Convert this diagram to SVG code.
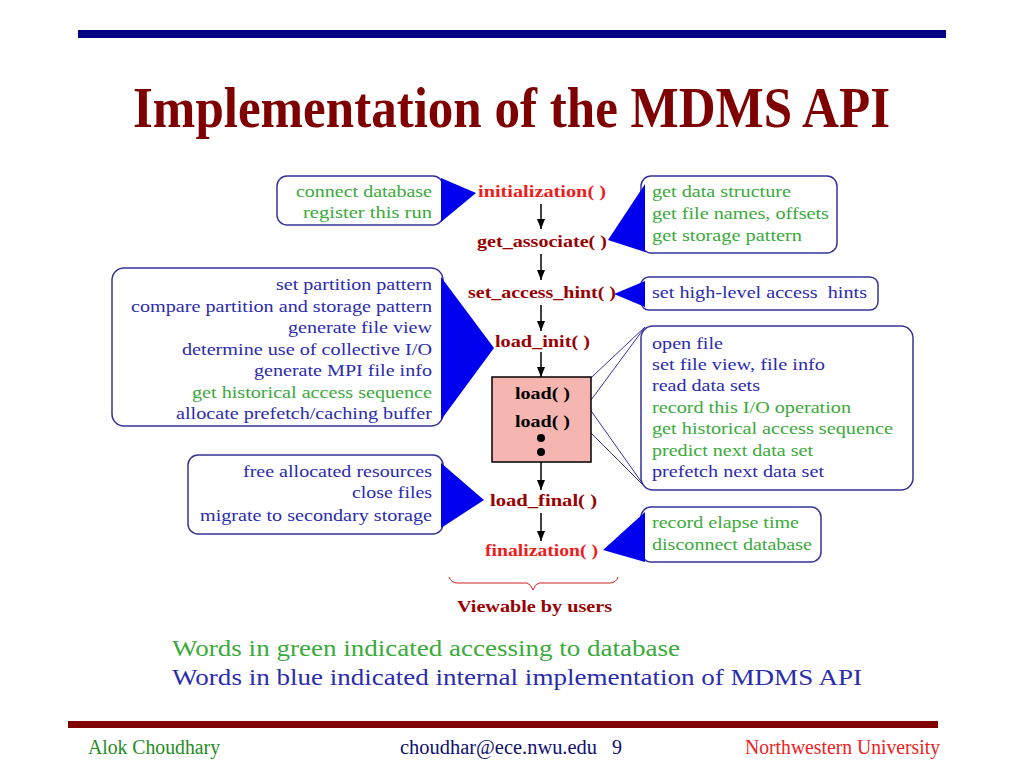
<svg xmlns="http://www.w3.org/2000/svg" width="1024" height="768" viewBox="0 0 1024 768">
<defs>
<style>
.serif{font-family:"Liberation Serif","Times New Roman",serif}
.box{fill:#fff;stroke:#333399;stroke-width:1.5}
.tri{fill:#0000ee}
.g{fill:#3aaa3a}
.b{fill:#2b2bb0}
.bt{font-family:"Liberation Serif","Times New Roman",serif;font-size:17px}
.fn{font-family:"Liberation Serif","Times New Roman",serif;font-size:16px;font-weight:bold;fill:#990000}
.fr{fill:#ee1c1c}
.k{fill:#000}
.conn line{stroke:#000;stroke-width:1.5}
.lk{stroke:#3333aa;stroke-width:1;fill:none}
</style>
<marker id="ah" markerWidth="10" markerHeight="8" refX="10" refY="4" orient="auto" markerUnits="userSpaceOnUse" viewBox="0 0 10 8">
<path d="M0,0 L10,4 L0,8 Z" fill="#000"/>
</marker>
</defs>
<rect width="1024" height="768" fill="#fff"/>
<rect x="78" y="30" width="868" height="8" fill="#000080"/>
<text x="133" y="127" class="serif" font-size="57" font-weight="bold" fill="#7f0000" textLength="757" lengthAdjust="spacingAndGlyphs">Implementation of the MDMS API</text>

<g class="conn" id="connectors">
<line x1="541" y1="204" x2="541" y2="229" marker-end="url(#ah)"/>
<line x1="541" y1="254" x2="541" y2="280" marker-end="url(#ah)"/>
<line x1="541" y1="305" x2="541" y2="331" marker-end="url(#ah)"/>
<line x1="541" y1="352" x2="541" y2="377" marker-end="url(#ah)"/>
<line x1="541" y1="462" x2="541" y2="490" marker-end="url(#ah)"/>
<line x1="541" y1="513" x2="541" y2="541" marker-end="url(#ah)"/>
<path class="lk" d="M577,391 L645,327 M577,391 L645,487 M577,419 L645,327 M577,419 L645,487"/>
</g>

<g id="flow">
<text x="478" y="197" class="fn fr" textLength="128" lengthAdjust="spacingAndGlyphs">initialization( )</text>
<text x="477" y="247" class="fn" textLength="130" lengthAdjust="spacingAndGlyphs">get_associate( )</text>
<text x="468" y="298" class="fn" textLength="148" lengthAdjust="spacingAndGlyphs">set_access_hint( )</text>
<text x="495" y="347" class="fn" textLength="95" lengthAdjust="spacingAndGlyphs">load_init( )</text>
<g id="loadbox">
<rect x="492" y="377" width="99" height="85" fill="#f5b5b0" stroke="#000" stroke-width="1.5"/>
<text x="515" y="399" class="fn k" textLength="55" lengthAdjust="spacingAndGlyphs">load( )</text>
<text x="515" y="427" class="fn k" textLength="55" lengthAdjust="spacingAndGlyphs">load( )</text>
<circle cx="541" cy="438" r="4" fill="#000"/>
<circle cx="541" cy="452" r="4" fill="#000"/>
</g>
<text x="490" y="506" class="fn" textLength="107" lengthAdjust="spacingAndGlyphs">load_final( )</text>
<text x="485" y="556" class="fn fr" textLength="113" lengthAdjust="spacingAndGlyphs">finalization( )</text>
</g>

<g id="brace">
<path d="M449,577 Q451,583 458,583 L527,583 Q531,584 533,590 Q535,584 539,583 L610,583 Q616,583 618,577" fill="none" stroke="#cc2222" stroke-width="1"/>
<text x="457" y="612" class="fn" textLength="155" lengthAdjust="spacingAndGlyphs">Viewable by users</text>
</g>

<g id="n-init">
<rect class="box" x="277" y="176" width="166" height="49" rx="10"/>
<polygon class="tri" points="441,178 476,193 441,222"/>
<text class="bt g" x="296" y="197" textLength="136" lengthAdjust="spacingAndGlyphs">connect database</text>
<text class="bt g" x="303" y="218" textLength="129" lengthAdjust="spacingAndGlyphs">register this run</text>
</g>

<g id="n-assoc">
<rect class="box" x="641" y="176" width="196" height="77" rx="10"/>
<polygon class="tri" points="645,184 608,240 645,252"/>
<text class="bt g" x="652" y="197" textLength="139" lengthAdjust="spacingAndGlyphs">get data structure</text>
<text class="bt g" x="652" y="219" textLength="177" lengthAdjust="spacingAndGlyphs">get file names, offsets</text>
<text class="bt g" x="652" y="241" textLength="150" lengthAdjust="spacingAndGlyphs">get storage pattern</text>
</g>

<g id="n-hint">
<rect class="box" x="641" y="277" width="237" height="33" rx="8"/>
<polygon class="tri" points="645,281 614,294 645,307"/>
<text class="bt b" x="652" y="298" textLength="215" lengthAdjust="spacingAndGlyphs" xml:space="preserve">set high-level access  hints</text>
</g>

<g id="n-loadinit">
<rect class="box" x="112" y="268" width="331" height="158" rx="12"/>
<polygon class="tri" points="441,277 494,348 441,420"/>
<text class="bt b" x="276" y="290" textLength="156" lengthAdjust="spacingAndGlyphs">set partition pattern</text>
<text class="bt b" x="131" y="312" textLength="301" lengthAdjust="spacingAndGlyphs">compare partition and storage pattern</text>
<text class="bt b" x="288" y="333" textLength="144" lengthAdjust="spacingAndGlyphs">generate file view</text>
<text class="bt b" x="182" y="355" textLength="250" lengthAdjust="spacingAndGlyphs">determine use of collective I/O</text>
<text class="bt b" x="254" y="376" textLength="178" lengthAdjust="spacingAndGlyphs">generate MPI file info</text>
<text class="bt g" x="192" y="398" textLength="240" lengthAdjust="spacingAndGlyphs">get historical access sequence</text>
<text class="bt b" x="176" y="419" textLength="256" lengthAdjust="spacingAndGlyphs">allocate prefetch/caching buffer</text>
</g>

<g id="n-load">
<rect class="box" x="641" y="326" width="272" height="164" rx="12"/>
<text class="bt b" x="652" y="349" textLength="71" lengthAdjust="spacingAndGlyphs">open file</text>
<text class="bt b" x="652" y="370" textLength="173" lengthAdjust="spacingAndGlyphs">set file view, file info</text>
<text class="bt b" x="652" y="391" textLength="108" lengthAdjust="spacingAndGlyphs">read data sets</text>
<text class="bt g" x="652" y="413" textLength="199" lengthAdjust="spacingAndGlyphs">record this I/O operation</text>
<text class="bt g" x="652" y="434" textLength="241" lengthAdjust="spacingAndGlyphs">get historical access sequence</text>
<text class="bt g" x="652" y="456" textLength="161" lengthAdjust="spacingAndGlyphs">predict next data set</text>
<text class="bt b" x="652" y="477" textLength="172" lengthAdjust="spacingAndGlyphs">prefetch next data set</text>
</g>

<g id="n-final">
<rect class="box" x="188" y="455" width="255" height="79" rx="10"/>
<polygon class="tri" points="441,463 484,500 441,528"/>
<text class="bt b" x="243" y="477" textLength="189" lengthAdjust="spacingAndGlyphs">free allocated resources</text>
<text class="bt b" x="352" y="498" textLength="80" lengthAdjust="spacingAndGlyphs">close files</text>
<text class="bt b" x="200" y="521" textLength="232" lengthAdjust="spacingAndGlyphs">migrate to secondary storage</text>
</g>

<g id="n-fin">
<rect class="box" x="641" y="507" width="180" height="55" rx="10"/>
<polygon class="tri" points="645,512 603,550 645,562"/>
<text class="bt g" x="652" y="528" textLength="147" lengthAdjust="spacingAndGlyphs">record elapse time</text>
<text class="bt g" x="652" y="550" textLength="160" lengthAdjust="spacingAndGlyphs">disconnect database</text>
</g>

<g id="legend" font-size="24">
<text class="serif g" x="172" y="656" textLength="508" lengthAdjust="spacingAndGlyphs">Words in green indicated accessing to database</text>
<text class="serif b" x="172" y="685" textLength="690" lengthAdjust="spacingAndGlyphs">Words in blue indicated internal implementation of MDMS API</text>
</g>

<rect x="68" y="721" width="870" height="7" fill="#800000"/>
<g id="footer" font-size="20">
<text class="serif" x="88" y="754" fill="#1e8c1e" textLength="132" lengthAdjust="spacingAndGlyphs">Alok Choudhary</text>
<text class="serif" x="400" y="754" fill="#10106e" textLength="197" lengthAdjust="spacingAndGlyphs">choudhar@ece.nwu.edu</text>
<text class="serif" x="612" y="754" fill="#10106e">9</text>
<text class="serif" x="745" y="754" fill="#f02020" textLength="195" lengthAdjust="spacingAndGlyphs">Northwestern University</text>
</g>
</svg>
